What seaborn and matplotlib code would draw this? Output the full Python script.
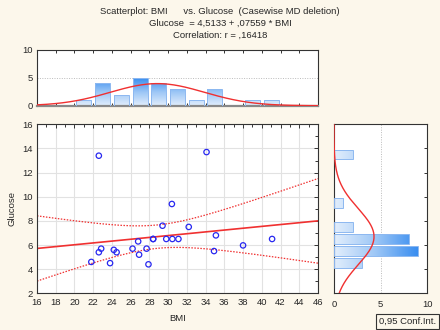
import numpy as np
import pandas as pd
import matplotlib
matplotlib.use("Agg")
import matplotlib.pyplot as plt
from matplotlib.colors import LinearSegmentedColormap
from matplotlib.ticker import MultipleLocator
import seaborn as sns

# ---- data ----
bmi = [21.8, 22.6, 22.6, 22.85, 23.8, 24.2, 24.5, 26.2, 26.8, 26.9, 27.7, 27.9,
       28.4, 28.4, 29.4, 29.8, 30.4, 30.45, 31.1, 32.2, 34.1, 34.9, 35.1, 38.0, 41.1]
glucose = [4.6, 13.4, 5.4, 5.7, 4.5, 5.6, 5.4, 5.7, 6.3, 5.2, 5.7, 4.4,
           6.5, 6.5, 7.6, 6.5, 9.4, 6.5, 6.5, 7.5, 13.7, 5.5, 6.8, 5.97, 6.5]
title_lines = ["Scatterplot: BMI      vs. Glucose  (Casewise MD deletion)",
               "Glucose  = 4,5133 + ,07559 * BMI",
               "Correlation: r = ,16418"]
x_label = "BMI"
y_label = "Glucose"
legend_text = "0,95 Conf.Int."
t_crit = 2.0687  # t(0.975, df=23)

df = pd.DataFrame({"BMI": bmi, "Glucose": glucose})

BG = "#FCF7EB"
RED = "#F03030"
BLUE = "#2828F0"
FS = 6.8

sns.set_style("white")
plt.rcParams["font.family"] = ["Liberation Sans", "DejaVu Sans"]
plt.rcParams["font.size"] = FS

fig = plt.figure(figsize=(4.4, 3.3), dpi=100, facecolor=BG)
ax_main = fig.add_axes([0.0841, 0.1112, 0.6386, 0.5121])
ax_top = fig.add_axes([0.0841, 0.6797, 0.6386, 0.1688])
ax_right = fig.add_axes([0.759, 0.1112, 0.212, 0.5121])

for ax in (ax_main, ax_top, ax_right):
    ax.set_facecolor("white")
    for s in ax.spines.values():
        s.set_color("#333333")
        s.set_linewidth(0.8)

# ---- regression computed from the data ----
x = np.asarray(bmi, float)
y = np.asarray(glucose, float)
n = len(x)
b1, b0 = np.polyfit(x, y, 1)
resid = y - (b0 + b1 * x)
s_err = np.sqrt(np.sum(resid ** 2) / (n - 2))
sxx = np.sum((x - x.mean()) ** 2)
xs = np.linspace(16, 46, 200)
yhat = b0 + b1 * xs
half = t_crit * s_err * np.sqrt(1.0 / n + (xs - x.mean()) ** 2 / sxx)

# ---- main scatter ----
ax_main.grid(True, color="#E2E2E2", lw=0.8)
ax_main.set_axisbelow(True)
sns.lineplot(x=xs, y=yhat, ax=ax_main, color=RED, lw=1.2)
sns.lineplot(x=xs, y=yhat + half, ax=ax_main, color=RED, lw=0.9, linestyle=(0, (1.2, 1.2)))
sns.lineplot(x=xs, y=yhat - half, ax=ax_main, color=RED, lw=0.9, linestyle=(0, (1.2, 1.2)))
sns.scatterplot(data=df, x="BMI", y="Glucose", ax=ax_main, s=15, zorder=5)
coll = ax_main.collections[-1]
coll.set_facecolor("none")
coll.set_edgecolor(BLUE)
coll.set_linewidth(0.9)
ax_main.set_xlim(16, 46)
ax_main.set_ylim(2, 16)
ax_main.set_xticks(np.arange(16, 47, 2))
ax_main.set_yticks(np.arange(2, 17, 2))
ax_main.xaxis.set_minor_locator(MultipleLocator(1))
ax_main.yaxis.set_minor_locator(MultipleLocator(1))
ax_main.tick_params(which="both", direction="in", top=True, right=True, width=0.7,
                    labelsize=FS, color="#333333")
ax_main.tick_params(axis="x", pad=3.5)
ax_main.tick_params(axis="y", pad=3)
ax_main.tick_params(which="major", length=3)
ax_main.tick_params(which="minor", length=2)
ax_main.set_xlabel(x_label, fontsize=FS, labelpad=5)
ax_main.set_ylabel(y_label, fontsize=FS, labelpad=4)

cmap = LinearSegmentedColormap.from_list("grad", ["#E2EEFC", "#9CC6F6", "#3A8EF0"])


def gradient_bars(ax, vertical):
    patches = list(ax.patches)
    vmax = max((p.get_height() if vertical else p.get_width()) for p in patches)
    for p in patches:
        x0, y0, w, h = p.get_x(), p.get_y(), p.get_width(), p.get_height()
        if (h if vertical else w) <= 0:
            continue
        if vertical:
            img = np.linspace(0, h / vmax, 64).reshape(-1, 1)
        else:
            img = np.linspace(0, w / vmax, 64).reshape(1, -1)
        im = ax.imshow(img, extent=[x0, x0 + w, y0, y0 + h], origin="lower",
                       cmap=cmap, vmin=0, vmax=1, aspect="auto", zorder=2,
                       interpolation="bilinear")
        im.set_clip_path(p)
        p.set_facecolor("none")
        p.set_edgecolor("#8DB8F0")
        p.set_linewidth(0.7)
        p.set_zorder(3)


# ---- top histogram ----
sns.histplot(data=df, x="BMI", bins=np.arange(16, 48, 2), shrink=0.8, ax=ax_top,
             color="#8DB8F0", alpha=1)
gradient_bars(ax_top, vertical=True)
gx = np.linspace(16, 46, 200)
mx, sx = x.mean(), x.std(ddof=1)
pdf_x = n * 2 * np.exp(-0.5 * ((gx - mx) / sx) ** 2) / (sx * np.sqrt(2 * np.pi))
sns.lineplot(x=gx, y=pdf_x, ax=ax_top, color=RED, lw=1.0, zorder=6)
ax_top.set_xlim(16, 46)
ax_top.set_ylim(0, 10)
ax_top.set_yticks([0, 5, 10])
ax_top.set_xticks(np.arange(16, 47, 2))
ax_top.set_xticklabels([])
ax_top.grid(axis="y", ls=(0, (1, 1.5)), color="#BBBBBB", lw=0.7)
ax_top.set_axisbelow(True)
ax_top.tick_params(direction="in", top=True, bottom=True, length=2.5, width=0.7,
                   labelsize=FS, pad=3, color="#333333")
ax_top.spines["bottom"].set_color("#888888")
ax_top.spines["bottom"].set_linewidth(1.6)
ax_top.set_xlabel("")
ax_top.set_ylabel("")

# ---- right histogram ----
sns.histplot(data=df, y="Glucose", bins=np.arange(2, 17, 1), shrink=0.8, ax=ax_right,
             color="#8DB8F0", alpha=1)
gradient_bars(ax_right, vertical=False)
gy = np.linspace(2, 16, 200)
my, sy = y.mean(), y.std(ddof=1)
pdf_y = n * 1 * np.exp(-0.5 * ((gy - my) / sy) ** 2) / (sy * np.sqrt(2 * np.pi))
sns.lineplot(x=pdf_y, y=gy, ax=ax_right, color=RED, lw=1.0, sort=False,
             estimator=None, zorder=6)
ax_right.set_xlim(0, 10)
ax_right.set_ylim(2, 16)
ax_right.set_xticks([0, 5, 10])
ax_right.set_yticks(np.arange(2, 17, 2))
ax_right.grid(axis="x", ls=(0, (1, 1.5)), color="#BBBBBB", lw=0.7)
ax_right.set_axisbelow(True)
ax_right.tick_params(axis="y", direction="in", left=False, right=True, labelleft=False,
                     length=2.5, width=0.7, color="#333333")
ax_right.tick_params(axis="x", direction="in", length=0, labelsize=FS, pad=4.5)
ax_right.set_xlabel("")
ax_right.set_ylabel("")

# ---- titles & legend box ----
for txt, yy in zip(title_lines, [11, 23.5, 35]):
    fig.text(0.5, 1 - yy / 330, txt, ha="center", va="center", fontsize=FS)

fig.text(0.926, 1 - 321.5 / 330, legend_text, ha="center", va="center", fontsize=FS,
         bbox=dict(boxstyle="square,pad=0.3", fc=BG, ec="#333333", lw=0.8))

fig.savefig("out.png", dpi=100, facecolor=BG)
